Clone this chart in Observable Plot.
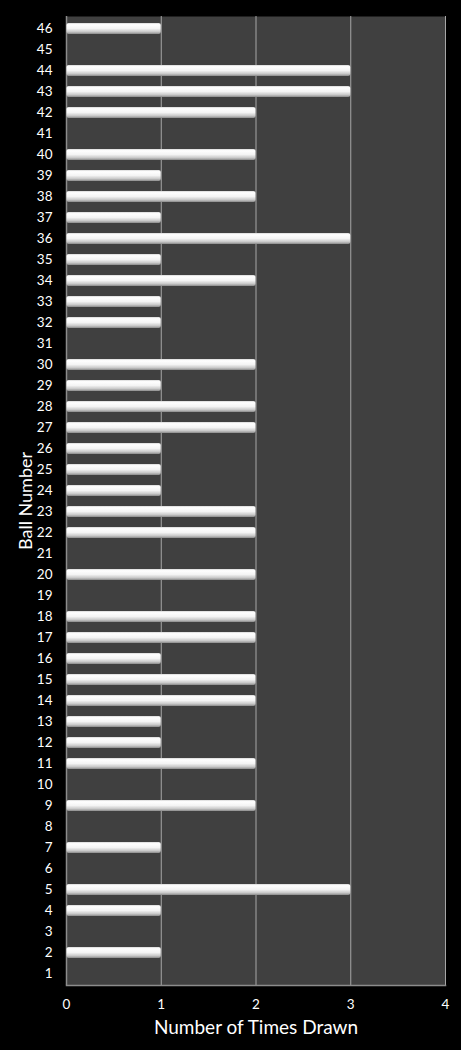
<!DOCTYPE html>
<html>
<head>
<meta charset="utf-8">
<script src="https://cdn.jsdelivr.net/npm/d3@7"></script>
<script src="https://cdn.jsdelivr.net/npm/@observablehq/plot@0.6"></script>
<style>
  html, body { margin: 0; padding: 0; background: #000; }
  svg { display: block; }
</style>
</head>
<body>
<div id="chart"></div>
<script>
const balls = d3.range(1, 47);
const timesDrawn = [
  0, 1, 0, 1, 3, 0, 1, 0, 2, 0,   // 1-10
  2, 1, 1, 2, 2, 1, 2, 2, 0, 2,   // 11-20
  0, 2, 2, 1, 1, 1, 2, 2, 1, 2,   // 21-30
  0, 1, 1, 2, 1, 3, 1, 2, 1, 2,   // 31-40
  0, 2, 3, 3, 0, 1                // 41-46
];
const xTicks = [0, 1, 2, 3, 4];
const xTitle = "Number of Times Drawn";
const yTitle = "Ball Number";

const data = balls.map((b, i) => ({ball: String(b), count: timesDrawn[i]}));
const yDomain = balls.map(String).reverse();

const plot = Plot.plot({
  width: 461,
  height: 1050,
  marginLeft: 66,
  marginRight: 16,
  marginTop: 16,
  marginBottom: 65,
  style: { background: "#000", color: "#fff", fontFamily: "Lato, 'Open Sans', sans-serif" },
  x: { domain: [0, 4], ticks: xTicks, label: null, axis: null },
  y: { domain: yDomain, paddingInner: 0.48, paddingOuter: 0.24, label: null, axis: null },
  marks: [
    Plot.frame({ fill: "#404040", stroke: null }),
    Plot.ruleX(xTicks.slice(1), { stroke: "#a6a6a6", strokeWidth: 1 }),
    Plot.ruleX([0], { stroke: "#8c8c8c", strokeWidth: 1.5 }),
    Plot.frame({ anchor: "bottom", stroke: "#8c8c8c", strokeWidth: 1.5 }),
    Plot.barX(data.filter(d => d.count > 0), { x: "count", y: "ball", fill: "url(#barGrad)", rx: 2, insetLeft: 0.5 }),
    Plot.axisY({ tickSize: 0, tickPadding: 14, fontSize: 13.5, fill: "#fff", label: null }),
    Plot.axisX({ ticks: xTicks, tickSize: 0, tickPadding: 14, fontSize: 13.5, fill: "#fff", label: null, tickFormat: d3.format("d") }),
    Plot.text([xTitle], { frameAnchor: "bottom", lineAnchor: "middle", dy: 42, fontSize: 19, fill: "#fff" }),
    Plot.text([yTitle], { frameAnchor: "left", textAnchor: "middle", lineAnchor: "middle", dx: -40, rotate: -90, fontSize: 18, fill: "#fff" })
  ]
});

d3.select(plot).insert("defs", ":first-child").html(`
  <linearGradient id="barGrad" x1="0" y1="0" x2="0" y2="1">
    <stop offset="0" stop-color="#d8d8d8"/>
    <stop offset="0.15" stop-color="#ffffff"/>
    <stop offset="0.5" stop-color="#f4f4f4"/>
    <stop offset="0.8" stop-color="#c8c8c8"/>
    <stop offset="1" stop-color="#8a8a8a"/>
  </linearGradient>`);

document.getElementById("chart").appendChild(plot);
</script>
</body>
</html>
